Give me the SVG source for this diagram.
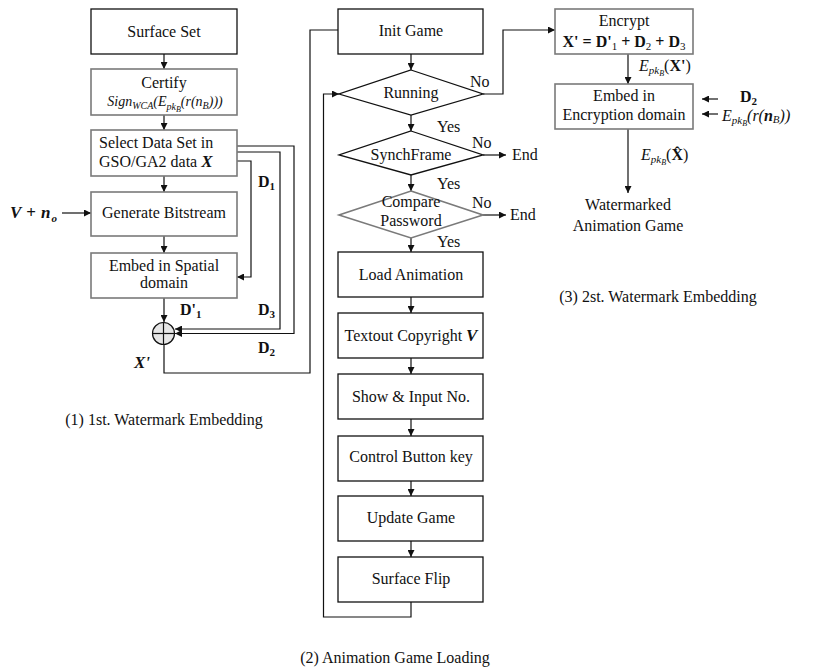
<svg xmlns="http://www.w3.org/2000/svg" width="814" height="671" viewBox="0 0 814 671">
  <style>
    text { font-family: "Liberation Serif", "Times New Roman", serif; font-size: 16px; fill: #111; }
    .c { text-anchor: middle; }
    .i { font-style: italic; }
    .b { font-weight: bold; }
    .sub { font-size: 11px; }
    .ss { font-size: 8px; }
    .box { fill: #fff; stroke: #111; stroke-width: 1.3; }
    .gbox { fill: #fff; stroke: #7a7a7a; stroke-width: 1.6; }
    .ln { fill: none; stroke: #111; stroke-width: 1.2; }
    .arr { fill: none; stroke: #111; stroke-width: 1.2; marker-end: url(#ah); }
  </style>
  <defs>
    <marker id="ah" viewBox="0 0 10 10" refX="10" refY="5" markerWidth="7" markerHeight="7" markerUnits="userSpaceOnUse" orient="auto">
      <path d="M0,0 L10,5 L0,10 z" fill="#111"/>
    </marker>
  </defs>

  <!-- connectors -->
  <g id="connectors">
    <!-- left column -->
    <line class="arr" x1="164" y1="54" x2="164" y2="69"/>
    <line class="arr" x1="164" y1="115" x2="164" y2="130"/>
    <line class="arr" x1="164" y1="176" x2="164" y2="192"/>
    <line class="arr" x1="164" y1="236" x2="164" y2="253"/>
    <line class="arr" x1="164" y1="298" x2="164" y2="322"/>
    <line class="arr" x1="62" y1="213" x2="91" y2="213"/>
    <polyline class="arr" points="237,161 251,161 251,277 237,277"/>
    <polyline class="arr" points="237,152 280,152 280,329 175,329"/>
    <polyline class="arr" points="237,146 294,146 294,333.5 175,333.5"/>
    <polyline class="ln" points="164,344.5 164,373 310,373 310,30 338,30"/>

    <!-- middle column -->
    <line class="arr" x1="411" y1="54" x2="411" y2="70"/>
    <line class="arr" x1="411" y1="115" x2="411" y2="131"/>
    <line class="arr" x1="411" y1="175" x2="411" y2="191"/>
    <line class="arr" x1="411" y1="238" x2="411" y2="252"/>
    <line class="arr" x1="411" y1="297" x2="411" y2="313"/>
    <line class="arr" x1="411" y1="358" x2="411" y2="374"/>
    <line class="arr" x1="411" y1="419" x2="411" y2="436"/>
    <line class="arr" x1="411" y1="481" x2="411" y2="496"/>
    <line class="arr" x1="411" y1="541" x2="411" y2="557"/>
    <polyline class="arr" points="411,602 411,617 323.5,617 323.5,94 339,94"/>
    <polyline class="arr" points="483,94 503,94 503,30 555,30"/>
    <line class="arr" x1="483" y1="155" x2="506" y2="155"/>
    <line class="arr" x1="483" y1="215" x2="506" y2="215"/>

    <!-- right column -->
    <line class="arr" x1="628" y1="54" x2="628" y2="84"/>
    <line class="arr" x1="628" y1="129" x2="628" y2="193"/>
    <line class="arr" x1="718" y1="99" x2="702" y2="99"/>
    <line class="arr" x1="718" y1="114" x2="702" y2="114"/>
  </g>

  <!-- (1) first watermark embedding -->
  <g id="surface-set">
    <rect class="box" x="91" y="9" width="146" height="45"/>
    <text class="c" x="164" y="37">Surface Set</text>
  </g>
  <g id="certify">
    <rect class="gbox" x="91" y="69" width="146" height="46"/>
    <text class="c" x="164" y="88">Certify</text>
    <text class="c i" x="165" y="106" style="font-size:14px">Sign<tspan dy="3" style="font-size:10px">WCA</tspan><tspan dy="-3">(E</tspan><tspan dy="4" style="font-size:10px">pk</tspan><tspan dy="2" class="ss">B</tspan><tspan dy="-6">(r(n</tspan><tspan dy="3" style="font-size:10px">B</tspan><tspan dy="-3">)))</tspan></text>
  </g>
  <g id="select-data">
    <rect class="gbox" x="91" y="130" width="146" height="46"/>
    <text x="99" y="148">Select Data Set in</text>
    <text x="99" y="167">GSO/GA2 data <tspan class="i b" style="font-size:17px">X</tspan></text>
  </g>
  <g id="generate-bitstream">
    <rect class="gbox" x="91" y="192" width="146" height="44"/>
    <text class="c" x="164" y="218">Generate Bitstream</text>
  </g>
  <g id="embed-spatial">
    <rect class="gbox" x="91" y="253" width="146" height="45"/>
    <text class="c" x="164" y="271">Embed in Spatial</text>
    <text class="c" x="164" y="288">domain</text>
  </g>
  <g id="adder">
    <circle cx="163.5" cy="333.5" r="11" fill="#e6e6e6" stroke="#111" stroke-width="1.2"/>
    <line class="ln" x1="152.5" y1="333.5" x2="174.5" y2="333.5"/>
    <line class="ln" x1="163.5" y1="322.5" x2="163.5" y2="344.5"/>
  </g>
  <g id="labels-left">
    <text class="i b" x="10" y="218" style="font-size:17px">V<tspan class="b" font-style="normal" dx="5">+</tspan><tspan dx="5">n</tspan><tspan class="sub" dy="4" dx="1">o</tspan></text>
    <text class="b" x="258" y="187">D<tspan class="sub" dy="3">1</tspan></text>
    <text class="b" x="180" y="315">D'<tspan class="sub" dy="3">1</tspan></text>
    <text class="b" x="258" y="315">D<tspan class="sub" dy="3">3</tspan></text>
    <text class="b" x="258" y="353">D<tspan class="sub" dy="3">2</tspan></text>
    <text class="i b" x="134" y="368" style="font-size:17px">X'</text>
    <text class="c" x="164" y="425">(1) 1st. Watermark Embedding</text>
  </g>

  <!-- (2) animation game loading -->
  <g id="init-game">
    <rect class="box" x="338" y="9" width="145" height="45"/>
    <text class="c" x="411" y="36">Init Game</text>
  </g>
  <g id="running">
    <polygon class="box" points="411,70 483,94 411,115 339,94"/>
    <text class="c" x="411" y="98">Running</text>
  </g>
  <g id="synchframe">
    <polygon class="box" points="411,131 483,155 411,175 339,155"/>
    <text class="c" x="411" y="160">SynchFrame</text>
  </g>
  <g id="compare-password">
    <polygon class="gbox" points="411,191 483,215 411,238 339,215"/>
    <text class="c" x="411" y="207">Compare</text>
    <text class="c" x="411" y="226">Password</text>
  </g>
  <g id="branch-labels">
    <text x="470" y="87">No</text>
    <text x="437" y="132">Yes</text>
    <text x="472" y="148">No</text>
    <text x="512" y="160">End</text>
    <text x="437" y="189">Yes</text>
    <text x="472" y="208">No</text>
    <text x="510" y="220">End</text>
    <text x="437" y="247">Yes</text>
  </g>
  <g id="load-animation">
    <rect class="box" x="338" y="252" width="145" height="45"/>
    <text class="c" x="411" y="280">Load Animation</text>
  </g>
  <g id="textout-copyright">
    <rect class="box" x="338" y="313" width="145" height="45"/>
    <text class="c" x="411" y="341">Textout Copyright <tspan class="i b" style="font-size:17px">V</tspan></text>
  </g>
  <g id="show-input">
    <rect class="box" x="338" y="374" width="145" height="45"/>
    <text class="c" x="411" y="402">Show &amp; Input No.</text>
  </g>
  <g id="control-button">
    <rect class="box" x="338" y="436" width="145" height="45"/>
    <text class="c" x="411" y="462">Control Button key</text>
  </g>
  <g id="update-game">
    <rect class="box" x="338" y="496" width="145" height="45"/>
    <text class="c" x="411" y="523">Update Game</text>
  </g>
  <g id="surface-flip">
    <rect class="box" x="338" y="557" width="145" height="45"/>
    <text class="c" x="411" y="584">Surface Flip</text>
  </g>
  <text class="c" x="395" y="663">(2) Animation Game Loading</text>

  <!-- (3) second watermark embedding -->
  <g id="encrypt">
    <rect class="gbox" x="555" y="9" width="138" height="45"/>
    <text class="c" x="624" y="26">Encrypt</text>
    <text class="c b" x="624" y="47">X' = D'<tspan class="sub" font-weight="normal" dy="3">1</tspan><tspan dy="-3"> + D</tspan><tspan class="sub" font-weight="normal" dy="3">2</tspan><tspan dy="-3"> + D</tspan><tspan class="sub" font-weight="normal" dy="3">3</tspan></text>
  </g>
  <g id="embed-encryption">
    <rect class="gbox" x="555" y="84" width="138" height="45"/>
    <text class="c" x="624" y="101">Embed in</text>
    <text class="c" x="624" y="120">Encryption domain</text>
  </g>
  <g id="labels-right">
    <text class="i" x="639" y="71">E<tspan class="sub" dy="3">pk</tspan><tspan class="ss" dy="2">B</tspan><tspan dy="-5" font-style="normal">(</tspan><tspan class="b" font-style="normal">X'</tspan><tspan font-style="normal">)</tspan></text>
    <text class="b" x="740" y="102">D<tspan class="sub" dy="3">2</tspan></text>
    <text class="i" x="722" y="121">E<tspan class="sub" dy="3">pk</tspan><tspan class="ss" dy="2">B</tspan><tspan dy="-5">(r(</tspan><tspan class="b">n</tspan><tspan class="sub" dy="2">B</tspan><tspan dy="-2">))</tspan></text>
    <text class="i" x="641" y="160">E<tspan class="sub" dy="3">pk</tspan><tspan class="ss" dy="2">B</tspan><tspan dy="-5" font-style="normal">(</tspan><tspan class="b" font-style="normal">X̂</tspan><tspan font-style="normal">)</tspan></text>
    <text class="c" x="628" y="210">Watermarked</text>
    <text class="c" x="628" y="231">Animation Game</text>
    <text class="c" x="658" y="302">(3) 2st. Watermark Embedding</text>
  </g>
</svg>
